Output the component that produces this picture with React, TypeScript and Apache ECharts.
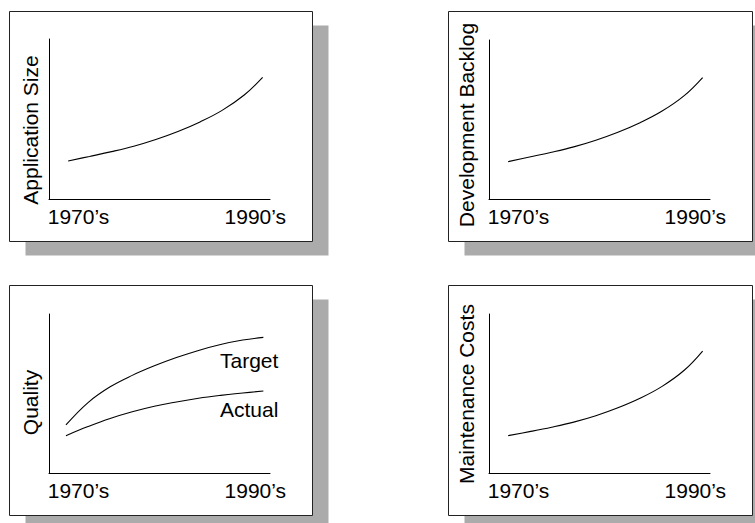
import React, { useEffect, useRef } from "react";
import * as echarts from "echarts";

// ---- Data ----
const xTickValues = [1974, 1998];
const xTickLabels = ["1970’s", "1990’s"];

const panelTitles = ["Application Size", "Development Backlog", "Quality", "Maintenance Costs"];

const growthX = [1972.6, 1975.5, 1978.5, 1981.5, 1984.5, 1987.5, 1990.5, 1993.5, 1996.5, 1999];
const appSizeY = [23.8, 26.6, 29.6, 33.0, 37.2, 42.2, 48.2, 55.4, 65.0, 76.0];
const backlogY = [23.5, 26.4, 29.4, 32.8, 37.0, 42.0, 48.0, 55.3, 65.0, 76.4];
const maintY = [23.5, 26.0, 28.8, 32.0, 36.0, 41.0, 47.0, 54.5, 64.6, 76.7];

const qualityX = [1972.3, 1975.3, 1978.3, 1981.3, 1984.3, 1987.3, 1990.3, 1993.3, 1996.3, 1999.1];
const targetY = [30.2, 44.3, 54.2, 61.4, 67.4, 72.6, 77.1, 80.8, 83.6, 85.3];
const actualY = [23.5, 29.2, 34.3, 38.5, 42.0, 44.7, 47.0, 48.8, 50.3, 51.6];

const seriesNames = ["Target", "Actual"];

const FONT = "'Liberation Sans', Arial, Helvetica, sans-serif";

const zip = (xs: number[], ys: number[]) => xs.map((x, i) => [x, ys[i]]);

export default function App() {
  const ref = useRef<HTMLDivElement>(null);

  useEffect(() => {
    document.body.style.margin = "0";
    const chart = echarts.init(ref.current!, null, { renderer: "svg" });

    const grids = [
      { left: 49, top: 39, width: 221, height: 160 },
      { left: 489, top: 40, width: 221, height: 159 },
      { left: 49, top: 314, width: 221, height: 159 },
      { left: 489, top: 314, width: 221, height: 159 },
    ];

    const boxes = [
      { x: 9.5, y: 11.5, w: 303, h: 230 },
      { x: 448.5, y: 11.5, w: 304, h: 230 },
      { x: 9.5, y: 285.5, w: 303, h: 230 },
      { x: 448.5, y: 285.5, w: 304, h: 230 },
    ];

    const titlePos = [
      { x: 30.7, y: 130 },
      { x: 466.7, y: 125 },
      { x: 30.5, y: 402.5 },
      { x: 466.7, y: 394 },
    ];

    const graphic: any[] = [];
    boxes.forEach((b) => {
      graphic.push({
        type: "rect",
        z: 1,
        shape: { x: b.x + 16, y: b.y + 14, width: b.w, height: b.h },
        style: { fill: "#ababab" },
        silent: true,
      });
    });
    boxes.forEach((b) => {
      graphic.push({
        type: "rect",
        z: 2,
        shape: { x: b.x, y: b.y, width: b.w, height: b.h },
        style: { fill: "#ffffff", stroke: "#222222", lineWidth: 1 },
        silent: true,
      });
    });
    panelTitles.forEach((t, i) => {
      graphic.push({
        type: "text",
        z: 20,
        x: titlePos[i].x,
        y: titlePos[i].y,
        rotation: Math.PI / 2,
        style: {
          text: t,
          fontSize: 21,
          fontFamily: FONT,
          fill: "#000",
          align: "center",
          verticalAlign: "middle",
        },
        silent: true,
      });
    });
    graphic.push({
      type: "text",
      z: 20,
      x: 220,
      y: 360.5,
      style: { text: seriesNames[0], fontSize: 21, fontFamily: FONT, fill: "#000", align: "left", verticalAlign: "middle" },
      silent: true,
    });
    graphic.push({
      type: "text",
      z: 20,
      x: 220,
      y: 409,
      style: { text: seriesNames[1], fontSize: 21, fontFamily: FONT, fill: "#000", align: "left", verticalAlign: "middle" },
      silent: true,
    });

    const xAxes = grids.map((_, i) => ({
      type: "value",
      gridIndex: i,
      min: 1970,
      max: 2000,
      z: 10,
      axisLine: { show: true, onZero: false, lineStyle: { color: "#000", width: 1 } },
      axisTick: { show: false },
      splitLine: { show: false },
      axisLabel: {
        customValues: xTickValues,
        formatter: (v: number) => {
          const k = xTickValues.indexOf(v);
          return k >= 0 ? xTickLabels[k] : "";
        },
        color: "#000",
        fontSize: 21,
        fontFamily: FONT,
        margin: 7,
        hideOverlap: false,
      },
    }));

    const yAxes = grids.map((_, i) => ({
      type: "value",
      gridIndex: i,
      min: 0,
      max: 100,
      z: 10,
      axisLine: { show: true, onZero: false, lineStyle: { color: "#000", width: 1 } },
      axisTick: { show: false },
      splitLine: { show: false },
      axisLabel: { show: false },
    }));

    const mkLine = (i: number, name: string, data: number[][]) => ({
      type: "line",
      name,
      xAxisIndex: i,
      yAxisIndex: i,
      data,
      smooth: 0.4,
      symbol: "none",
      silent: true,
      z: 10,
      lineStyle: { color: "#000", width: 1.1 },
    });

    const option: any = {
      animation: false,
      backgroundColor: "#ffffff",
      grid: grids.map((g) => ({ ...g, containLabel: false })),
      xAxis: xAxes,
      yAxis: yAxes,
      graphic,
      series: [
        mkLine(0, panelTitles[0], zip(growthX, appSizeY)),
        mkLine(1, panelTitles[1], zip(growthX, backlogY)),
        mkLine(2, seriesNames[0], zip(qualityX, targetY)),
        mkLine(2, seriesNames[1], zip(qualityX, actualY)),
        mkLine(3, panelTitles[3], zip(growthX, maintY)),
      ],
    };

    chart.setOption(option);
    return () => chart.dispose();
  }, []);

  return (
    <div
      ref={ref}
      style={{ position: "absolute", left: 0, top: 0, width: 755, height: 523, background: "#fff" }}
    />
  );
}
